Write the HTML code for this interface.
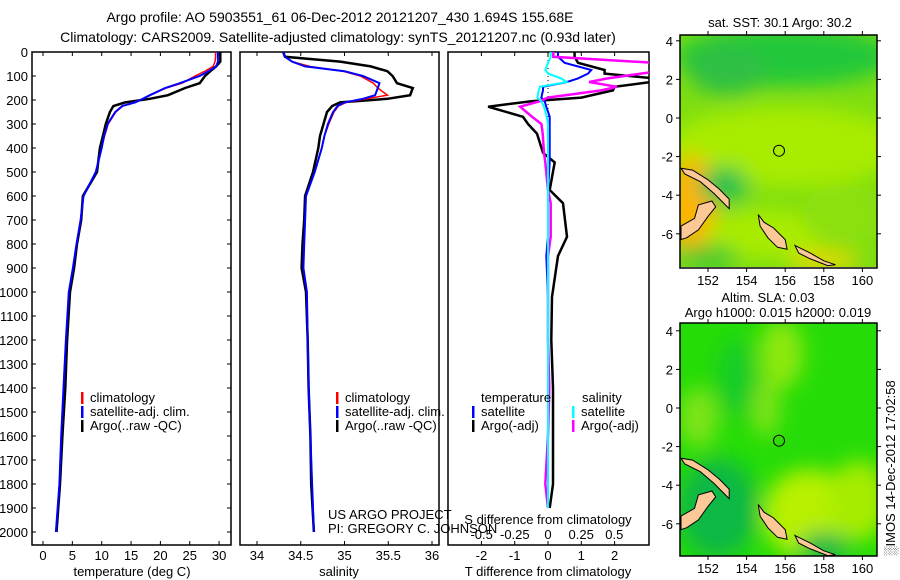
<!DOCTYPE html>
<html><head><meta charset="utf-8"><style>
html,body{margin:0;padding:0;background:#fff;}
svg{display:block;font-family:"Liberation Sans",sans-serif;}
text{fill:#000;}
</style></head><body>
<svg id="fig" width="900" height="580" viewBox="0 0 900 580" xmlns="http://www.w3.org/2000/svg">
<defs>
<filter id="blur6" x="-50%" y="-50%" width="200%" height="200%"><feGaussianBlur stdDeviation="6"/></filter>
<filter id="blur10" x="-50%" y="-50%" width="200%" height="200%"><feGaussianBlur stdDeviation="10"/></filter>
<clipPath id="clipP1"><rect x="32" y="52" width="199" height="493"/></clipPath>
<clipPath id="clipP2"><rect x="240" y="52" width="199" height="493"/></clipPath>
<clipPath id="clipP3"><rect x="448" y="52" width="201" height="493"/></clipPath>
<clipPath id="clipM1"><rect x="680" y="35" width="197" height="232"/></clipPath>
<clipPath id="clipM2"><rect x="680" y="323" width="197" height="233"/></clipPath>
</defs>
<text x="340" y="22" font-size="14" text-anchor="middle">Argo profile: AO 5903551_61 06-Dec-2012 20121207_430 1.694S 155.68E</text>
<text x="338" y="42" font-size="14" text-anchor="middle">Climatology: CARS2009. Satellite-adjusted climatology: synTS_20121207.nc (0.93d later)</text>
<g id="layer"></g>
</svg>
<script>
// ---------- data ----------
const depths = [0,20,40,60,80,100,130,150,180,195,210,225,250,300,350,400,500,600,700,800,900,1000,1200,1400,1600,1800,2000];
const argoT  = [30.2,30.2,30.2,29.5,28.5,27.6,26.7,24.2,21.3,18.2,14.0,12.0,11.4,10.7,10.2,9.7,9.2,6.8,6.5,5.8,5.3,4.6,4.1,3.8,3.3,2.9,2.3];
const climT  = [29.4,29.4,29.3,29.0,27.6,25.9,23.7,21.0,18.3,17.0,15.5,13.6,12.4,11.1,10.5,10.0,9.0,6.9,6.4,5.7,5.1,4.4,3.9,3.5,3.1,2.8,2.2];
const satT   = [29.8,29.8,29.8,29.5,28.2,26.7,23.3,20.8,18.2,17.0,15.7,13.5,12.3,11.0,10.4,10.0,9.0,6.9,6.4,5.7,5.1,4.4,3.9,3.5,3.1,2.8,2.2];
const argoS  = [34.30,34.32,34.95,35.30,35.49,35.55,35.60,35.78,35.75,35.49,34.95,34.86,34.80,34.76,34.72,34.70,34.64,34.55,34.54,34.52,34.51,34.56,34.58,34.59,34.61,34.62,34.65];
const climS  = [34.30,34.32,34.40,34.60,34.98,35.18,35.33,35.38,35.49,35.25,35.02,34.93,34.88,34.82,34.77,34.74,34.66,34.56,34.55,34.54,34.53,34.57,34.58,34.59,34.61,34.63,34.65];
const satS   = [34.30,34.32,34.40,34.55,35.00,35.21,35.40,35.38,35.35,35.21,35.00,34.92,34.87,34.81,34.77,34.74,34.66,34.56,34.55,34.54,34.53,34.57,34.58,34.59,34.61,34.63,34.65];
const dDepths = [0,20,45,75,90,110,125,145,160,190,205,228,270,300,340,420,460,575,630,770,850,1020,1200,1400,1600,1800,1900];
const argoTdiff = [0.8,0.8,0.9,1.7,1.7,3.2,3.1,2.0,1.95,1.0,-0.5,-1.8,-0.75,-0.6,-0.33,-0.15,0.2,0.05,0.45,0.57,0.3,0.12,0.1,0.15,0.15,0.15,0.05];
const satTdiff  = [0.3,0.3,0.5,1.3,1.2,0.9,0.57,-0.15,-0.15,-0.2,-0.1,-0.05,0.05,0.05,0.05,0.05,0.05,0.0,0.0,0.0,-0.05,0.0,0.0,0.0,0.0,0.0,0.0];
const argoSdiff = [0.04,0.04,0.8,0.9,0.7,0.45,0.31,0.52,0.4,0.0,-0.06,-0.21,-0.12,-0.05,-0.04,-0.03,-0.02,0.0,0.02,0.02,0.0,0.0,0.0,0.01,0.0,-0.02,0.0];
const satSdiff  = [0.02,0.02,0.0,-0.02,0.0,0.1,0.14,-0.06,-0.07,-0.08,-0.05,-0.03,-0.01,0.0,0.0,0.0,0.0,0.0,0.0,0.0,0.0,0.0,0.0,0.0,0.0,0.0,0.0];
const depthTicks = [0,100,200,300,400,500,600,700,800,900,1000,1100,1200,1300,1400,1500,1600,1700,1800,1900,2000];
const tTicks = [0,5,10,15,20,25,30];
const sTicks = [34,34.5,35,35.5,36];
const tdTicks = [-2,-1,0,1,2];
const sdTicks = [-0.5,-0.25,0,0.25,0.5];
const sdLabels = ["-0.5","-0.25","0","0.25","0.5"];
const latTicks = [4,2,0,-2,-4,-6];
const lonTicks = [152,154,156,158,160];
const argoLon = 155.68, argoLat = -1.694;

// ---------- scales ----------
const yD = d => 52 + d*0.24;
const xT = t => 43 + t*5.87;
const xS = s => 257 + (s-34)*87.5;
const xTd = v => 548 + v*33.3;
const xSd = v => 548 + v*132.7;
const lon1 = l => 708 + (l-152)*19.3;
const lat1 = a => 118 - a*19.3;
const lat2 = a => 408 - a*19.3;

const NS='http://www.w3.org/2000/svg';
const layer=document.getElementById('layer');
function mk(tag,attrs,parent){const e=document.createElementNS(NS,tag);for(const k in attrs)e.setAttribute(k,attrs[k]);(parent||layer).appendChild(e);return e;}
function txt(x,y,s,size,anchor,parent){const e=mk('text',{x:x,y:y,'font-size':size,'text-anchor':anchor||'start'},parent);e.textContent=s;return e;}
function profile(xs,vals,xf,color,w,clip,name){
  const pts=vals.map((v,i)=>xf(v).toFixed(1)+','+yD(xs[i]).toFixed(1)).join(' ');
  const p=mk('polyline',{points:pts,fill:'none',stroke:color,'stroke-width':w,'stroke-linejoin':'miter','clip-path':'url(#'+clip+')'});
  
  
  return p;
}

// ---------- panel frames ----------
const panels=[[32,231,'temperature-panel'],[240,439,'salinity-panel'],[448,649,'difference-panel']];
panels.forEach(p=>{
  const r=mk('rect',{x:p[0],y:52,width:p[1]-p[0],height:493,fill:'none',stroke:'#000','stroke-width':1.5});
  
  
});
// depth axis
depthTicks.forEach(d=>{
  mk('line',{x1:32,x2:36,y1:yD(d),y2:yD(d),stroke:'#000'});
  mk('line',{x1:227,x2:231,y1:yD(d),y2:yD(d),stroke:'#000'});
  const t=txt(28,yD(d)+5,String(d),13,'end');
  
  
});
// temp axis
tTicks.forEach(v=>{
  mk('line',{x1:xT(v),x2:xT(v),y1:52,y2:56,stroke:'#000'});
  mk('line',{x1:xT(v),x2:xT(v),y1:541,y2:545,stroke:'#000'});
  const t=txt(xT(v),560,String(v),13,'middle');
  
  
});
const tl=txt(132,576,'temperature (deg C)',13,'middle');


// sal axis
sTicks.forEach(v=>{
  mk('line',{x1:xS(v),x2:xS(v),y1:52,y2:56,stroke:'#000'});
  mk('line',{x1:xS(v),x2:xS(v),y1:541,y2:545,stroke:'#000'});
  const t=txt(xS(v),560,String(v),13,'middle');
  
  
});
const sl=txt(339,576,'salinity',13,'middle');


// diff axis
tdTicks.forEach(v=>{
  mk('line',{x1:xTd(v),x2:xTd(v),y1:52,y2:56,stroke:'#000'});
  mk('line',{x1:xTd(v),x2:xTd(v),y1:541,y2:545,stroke:'#000'});
  const t=txt(xTd(v),560,String(v),13,'middle');
  
  
});
sdTicks.forEach((v,i)=>{
  const t=txt(xSd(v),539,sdLabels[i],13,'middle');
  
  
});
const sdl=txt(548,524,'S difference from climatology',13,'middle');


const tdl=txt(548,576,'T difference from climatology',13,'middle');


// zero dotted line
mk('line',{x1:548,x2:548,y1:52,y2:120,stroke:'#000','stroke-dasharray':'1,3'});

// ---------- profiles ----------
profile(depths,argoT,xT,'#000',2.5,'clipP1','argo-temperature-line');
profile(depths,climT,xT,'#f00',1.5,'clipP1','climatology-temperature-line');
profile(depths,satT,xT,'#00f',2,'clipP1','satellite-temperature-line');
profile(depths,argoS,xS,'#000',2.5,'clipP2','argo-salinity-line');
profile(depths,climS,xS,'#f00',1.5,'clipP2','climatology-salinity-line');
profile(depths,satS,xS,'#00f',2,'clipP2','satellite-salinity-line');
profile(dDepths,argoTdiff,xTd,'#000',2.5,'clipP3','argo-t-diff-line');
profile(dDepths,satTdiff,xTd,'#00f',2,'clipP3','satellite-t-diff-line');
profile(dDepths,argoSdiff,xSd,'#f0f',2.5,'clipP3','argo-s-diff-line');
profile(dDepths,satSdiff,xSd,'#0ff',2,'clipP3','satellite-s-diff-line');

// ---------- legends ----------
function legendEntry(tx,ty,color,label,name){
  const g=mk('g',{});
  
  
  mk('rect',{x:tx,y:ty-10,width:2.5,height:12,fill:color},g);
  txt(tx+9,ty,label,13,'start',g);
}
legendEntry(81,402,'#f00','climatology','legend-climatology-t');
legendEntry(81,416,'#00f','satellite-adj. clim.','legend-satellite-t');
legendEntry(81,430,'#000','Argo(..raw -QC)','legend-argo-t');
legendEntry(336,402,'#f00','climatology','legend-climatology-s');
legendEntry(336,416,'#00f','satellite-adj. clim.','legend-satellite-s');
legendEntry(336,430,'#000','Argo(..raw -QC)','legend-argo-s');
const lt=txt(481,402,'temperature',13);


const ls=txt(582,402,'salinity',13);


legendEntry(472,416,'#00f','satellite','legend-t-satellite');
legendEntry(472,430,'#000','Argo(-adj)','legend-t-argo');
legendEntry(572,416,'#0ff','satellite','legend-s-satellite');
legendEntry(572,430,'#f0f','Argo(-adj)','legend-s-argo');
const us=txt(328,519,'US ARGO PROJECT',13);


const pi=txt(328,533,'PI: GREGORY C. JOHNSON',13);



// ---------- maps ----------
function land(g,pts,latf){
  const p=pts.map(q=>lon1(q[0]).toFixed(1)+','+latf(q[1]).toFixed(1)).join(' ');
  mk('polygon',{points:p,fill:'#fbc896',stroke:'#000','stroke-width':1},g);
}
const newIreland=[[150.6,-2.6],[151.2,-2.7],[152.0,-3.2],[152.6,-3.7],[153.1,-4.2],[153.1,-4.7],[152.8,-4.4],[152.3,-3.9],[151.6,-3.3],[150.8,-2.9]];
const newBritain=[[150.6,-5.6],[151.3,-5.2],[151.5,-4.5],[152.2,-4.3],[152.4,-4.6],[152.0,-5.1],[151.5,-5.8],[150.9,-6.2],[150.6,-6.3]];
const bougainville=[[154.6,-5.0],[154.9,-5.4],[155.4,-5.7],[156.0,-6.3],[156.1,-6.8],[155.6,-6.7],[155.1,-6.2],[154.7,-5.6]];
const choiseul=[[156.5,-6.6],[157.3,-7.0],[158.0,-7.4],[158.6,-7.6],[158.2,-7.65],[157.3,-7.3],[156.7,-7.0]];
function map(y0,latf,top,name,baseColor,blobs){
  const g=mk('g',{'clip-path':'url(#'+(top?'clipM1':'clipM2')+')'});
  
  
  mk('rect',{x:680,y:y0,width:197,height:233,fill:baseColor},g);
  const bg=mk('g',{filter:'url(#blur10)'},g);
  blobs.forEach(b=>mk('ellipse',{cx:lon1(b[0]),cy:latf(b[1]),rx:b[2],ry:b[3],fill:b[4]},bg));
  land(g,newIreland,latf);land(g,newBritain,latf);land(g,bougainville,latf);land(g,choiseul,latf);
  const c=mk('circle',{cx:lon1(argoLon),cy:latf(argoLat),r:5.5,fill:'none',stroke:'#000','stroke-width':1},g);
  
  
  mk('rect',{x:680,y:y0,width:197,height:233,fill:'none',stroke:'#000','stroke-width':1.5});
  latTicks.forEach(a=>{
    mk('line',{x1:676,x2:680,y1:latf(a),y2:latf(a),stroke:'#000'});
    mk('line',{x1:877,x2:881,y1:latf(a),y2:latf(a),stroke:'#000'});
    const t=txt(673,latf(a)+5,String(a),13,'end');
    
    
  });
  lonTicks.forEach(l=>{
    mk('line',{x1:lon1(l),x2:lon1(l),y1:y0-4,y2:y0,stroke:'#000'});
    mk('line',{x1:lon1(l),x2:lon1(l),y1:y0+233,y2:y0+237,stroke:'#000'});
    const t=txt(lon1(l),y0+250,String(l),13,'middle');
    
    
  });
}
map(35,lat1,true,'sst-map','#7ede10',[
  [156,3.2,110,30,'#22c83a'],[153,2.5,40,25,'#2fbf44'],[156,-1.5,120,40,'#a8ec05'],
  [151.2,-4.5,25,50,'#ffb400'],[152.8,-3.5,25,18,'#22c050'],[155,-6,60,25,'#a8ec05'],
  [158,-7.4,35,10,'#f0d800'],[152,-7.2,30,12,'#38c830'],[159,-5,40,30,'#8ce010']]);
map(323,lat2,false,'sla-map','#26dc08',[
  [155.8,2.8,22,35,'#8ee810'],[155,0,14,30,'#80e414'],[151.5,-0.5,20,30,'#7ee416'],
  [157.2,-5.5,45,45,'#b8f000'],[159.8,-4.8,30,40,'#a6ec06'],[152.5,-5.2,40,50,'#10b845'],
  [158,-7.2,25,15,'#12b848'],[153.5,1.5,20,40,'#18cc28']]);
const m1t=txt(780,27,'sat. SST: 30.1 Argo: 30.2',13,'middle');


const m2a=txt(768,302,'Altim. SLA: 0.03',13,'middle');


const m2b=txt(778,317,'Argo h1000: 0.015 h2000: 0.019',13,'middle');


const side=txt(0,0,'\u2591IMOS 14-Dec-2012 17:02:58',13,'middle');
side.setAttribute('transform','translate(895,468) rotate(-90)');


</script>
</body></html>
